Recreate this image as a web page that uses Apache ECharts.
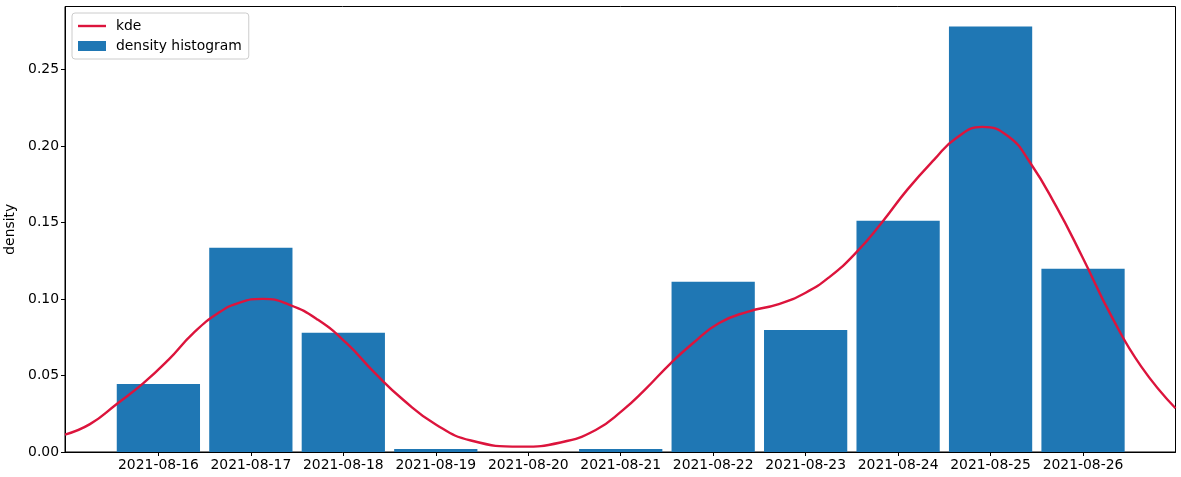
<!DOCTYPE html>
<html>
<head>
<meta charset="utf-8">
<script src="https://cdn.jsdelivr.net/npm/echarts@6/dist/echarts.min.js"></script>
<style>html,body{margin:0;padding:0;background:#fff}#c{width:1181px;height:477px}</style>
</head>
<body>
<div id="c"></div>
<script>
// Categories (dates), x position = index in days
const dates = ['2021-08-16','2021-08-17','2021-08-18','2021-08-19','2021-08-20','2021-08-21','2021-08-22','2021-08-23','2021-08-24','2021-08-25','2021-08-26'];
const histValues = [0.0445, 0.1335, 0.0779, 0.002, 0, 0.002, 0.1113, 0.0798, 0.1512, 0.2781, 0.1198];
// KDE curve, x in days from 2021-08-16
const kdeX = [-1.01, -0.74, -0.45, -0.162, 0.108, 0.378, 0.647, 0.879, 1.129, 1.418, 1.726, 2.035, 2.343, 2.65, 3.0, 3.38, 3.92, 4.35, 4.73, 5.02, 5.26, 5.54, 5.78, 6.06, 6.38, 6.70, 7.00, 7.26, 7.54, 7.82, 8.10, 8.39, 8.63, 8.91, 9.19, 9.43, 9.71, 9.99, 10.31, 10.63, 11.0];
const kdeY = [0.0114, 0.0182, 0.0314, 0.045, 0.0602, 0.0777, 0.0908, 0.0977, 0.1001, 0.0962, 0.0864, 0.0711, 0.0515, 0.034, 0.018, 0.0075, 0.0035, 0.0062, 0.0144, 0.0272, 0.0406, 0.058, 0.0711, 0.0842, 0.0918, 0.0965, 0.1041, 0.1145, 0.130, 0.1497, 0.1715, 0.1911, 0.2053, 0.2125, 0.2064, 0.1889, 0.1605, 0.1278, 0.0885, 0.0558, 0.0286];
const yTicks = [0, 0.05, 0.10, 0.15, 0.20, 0.25];

const tickIdx = dates.map((d, i) => i);
const font = 'DejaVu Sans';
const fs = 13.9;
const chart = echarts.init(document.getElementById('c'));
chart.setOption({
  animation: false,
  textStyle: {fontFamily: font},
  grid: {left: 65, right: 5.5, top: 6.5, bottom: 25, containLabel: false, outerBoundsMode: 'none',
    show: true, borderColor: '#000', borderWidth: 1, backgroundColor: 'transparent'},
  legend: {
    orient: 'vertical', left: 72, top: 13, padding: [5, 7, 5, 6],
    backgroundColor: 'rgba(255,255,255,0.8)', borderColor: '#cccccc', borderWidth: 1, borderRadius: 3,
    itemWidth: 28, itemHeight: 10, itemGap: 4,
    textStyle: {fontFamily: font, fontSize: fs, color: '#000', lineHeight: 16, padding: [0, 0, 0, 5]},
    data: [
      {name: 'kde', icon: 'path://M0,3.8 L28,3.8 L28,6.2 L0,6.2 Z'},
      {name: 'density histogram', icon: 'rect'}
    ]
  },
  xAxis: {
    type: 'value', min: -1.01, max: 11,
    splitLine: {show: false},
    axisLine: {show: true, onZero: false, lineStyle: {color: '#000'}},
    axisTick: {show: true, length: 4, lineStyle: {color: '#000'}, customValues: tickIdx},
    axisLabel: {customValues: tickIdx, color: '#000', fontSize: fs, margin: 6,
      formatter: v => dates[Math.round(v)] || ''}
  },
  yAxis: {
    type: 'value', min: 0, max: 0.2912,
    name: 'density', nameLocation: 'middle', nameGap: 46,
    nameTextStyle: {fontFamily: font, fontSize: fs, color: '#000'},
    splitLine: {show: false},
    axisLine: {show: true, onZero: false, lineStyle: {color: '#000'}},
    axisTick: {show: true, length: 4, lineStyle: {color: '#000'}, customValues: yTicks},
    axisLabel: {customValues: yTicks, color: '#000', fontSize: fs, margin: 6,
      formatter: v => v.toFixed(2)}
  },
  series: [
    {
      name: 'density histogram', type: 'bar', barWidth: 83.25,
      itemStyle: {color: '#1f77b4'},
      data: histValues.map((v, i) => [i, v])
    },
    {
      name: 'kde', type: 'line', smooth: 0.5, showSymbol: false, symbol: 'none',
      lineStyle: {color: '#dc143c', width: 2.4},
      itemStyle: {color: '#dc143c'},
      data: kdeX.map((x, i) => [x, kdeY[i]]),
      z: 5
    }
  ]
});
</script>
</body>
</html>
